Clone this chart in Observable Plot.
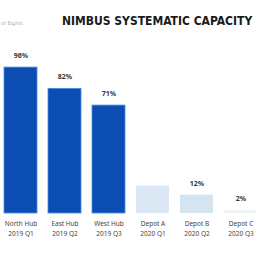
<!DOCTYPE html>
<html><head><meta charset="utf-8">
<script src="https://cdn.jsdelivr.net/npm/d3@7"></script>
<script src="https://cdn.jsdelivr.net/npm/@observablehq/plot@0.6"></script>
<style>
html,body{margin:0;padding:0;background:#fff;width:256px;height:256px;overflow:hidden;font-family:"DejaVu Sans",sans-serif;}
#head{position:relative;height:35px;}
#note{position:absolute;left:1px;top:20px;font-size:5px;color:#aaa;}
#title{position:absolute;left:62px;top:14px;white-space:nowrap;font-family:"DejaVu Sans Condensed","DejaVu Sans",sans-serif;font-weight:bold;font-size:12px;color:#1a1a1a;text-transform:uppercase;}
</style></head><body>
<div id="head"><div id="note">of Eights</div><div id="title">Nimbus Systematic Capacity</div></div>
<div id="chart"></div>
<script>
const categories = ["North Hub", "East Hub", "West Hub", "Depot A", "Depot B", "Depot C"];
const subLabels = ["2019 Q1", "2019 Q2", "2019 Q3", "2020 Q1", "2020 Q2", "2020 Q3"];
const values = [96, 82, 71, 18, 12, 2];
const valueLabels = ["96%", "82%", "71%", "", "12%", "2%"];
const colors = ["#0b4db3", "#0b4db3", "#0b4db3", "#dce9f5", "#d4e4f0", "#eff2f5"];

const data = categories.map((c, i) => ({cat: c, sub: subLabels[i], v: values[i], lab: valueLabels[i], col: colors[i]}));

const chart = Plot.plot({
  width: 256, height: 221,
  marginTop: 26, marginBottom: 43, marginLeft: 0, marginRight: 0,
  x: {domain: categories, range: [0, 260], paddingInner: 0.25, paddingOuter: 0.05, axis: null},
  y: {domain: [0, 100], axis: null},
  marks: [
    Plot.barY(data, {x: "cat", y: "v", fill: "col", stroke: d => d.col === "#0b4db3" ? "#4a8ee0" : "none", strokeWidth: 0.8}),
    Plot.text(data, {x: "cat", y: "v", text: "lab", dy: -12, fontSize: 7, fontWeight: "bold", fill: "#333"}),
    Plot.text(data, {x: "cat", y: 0, text: "cat", dy: 10, fontSize: 6.5, fill: "#444"}),
    Plot.text(data, {x: "cat", y: 0, text: "sub", dy: 20, fontSize: 6.5, fill: "#444"})
  ]
});
document.getElementById("chart").append(chart);
</script>
</body></html>
